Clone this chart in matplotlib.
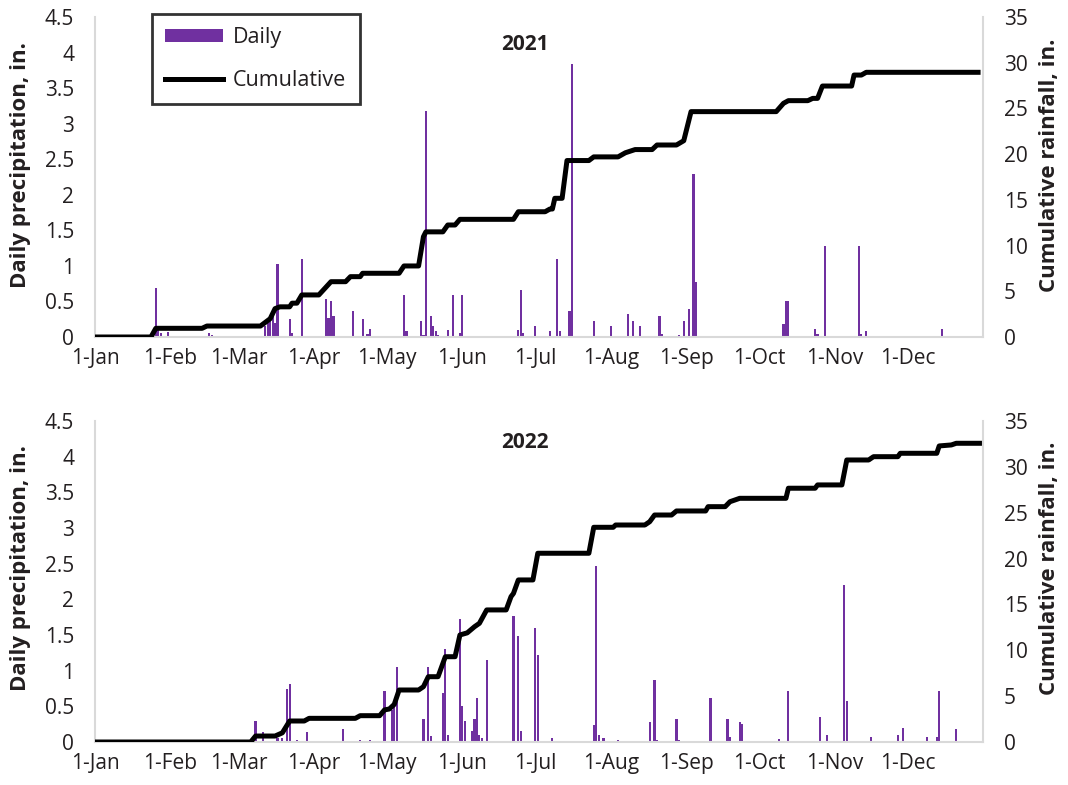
import matplotlib
matplotlib.use("Agg")
import matplotlib.pyplot as plt
from matplotlib.patches import Patch
from matplotlib.lines import Line2D

plt.rcParams['font.family'] = ['Open Sans', 'DejaVu Sans']

# day of year (0 = 1-Jan), daily precipitation in inches
days_2021 = [7, 24, 25, 26, 27, 30, 47, 48, 70, 71, 72, 73, 74, 75, 80, 81, 85, 86,
             95, 96, 97, 98, 106, 110, 112, 113, 118, 122, 127, 128, 134, 135, 136,
             138, 139, 140, 141, 145, 147, 150, 151, 162, 174, 175, 176, 181, 187,
             190, 191, 195, 196, 205, 212, 219, 221, 224, 232, 233, 240, 242, 244,
             246, 247, 258, 263, 272, 274, 283, 284, 285, 296, 297, 300, 314, 315,
             317, 348]
daily_2021 = [0.01, 0.10, 0.69, 0.12, 0.05, 0.07, 0.06, 0.03, 0.15, 0.20, 0.30, 0.40,
              0.20, 1.02, 0.26, 0.05, 1.10, 0.02, 0.54, 0.27, 0.51, 0.29, 0.37, 0.25,
              0.04, 0.11, 0.02, 0.02, 0.59, 0.08, 0.22, 0.03, 3.18, 0.30, 0.16, 0.08,
              0.03, 0.10, 0.59, 0.05, 0.59, 0.02, 0.10, 0.66, 0.05, 0.16, 0.08, 1.10,
              0.08, 0.37, 3.84, 0.22, 0.16, 0.33, 0.22, 0.16, 0.30, 0.04, 0.03, 0.22,
              0.40, 2.29, 0.77, 0.02, 0.02, 0.02, 0.02, 0.18, 0.51, 0.51, 0.11, 0.04,
              1.28, 1.28, 0.04, 0.08, 0.11]

cum_days_2021 = [0, 23, 25, 44, 46, 68, 72, 74, 76, 80, 81, 83, 85, 92, 97, 103, 105,
                 109, 110, 125, 127, 133, 135, 136, 143, 145, 148, 150, 172, 174, 185,
                 187, 188, 189, 192, 194, 203, 205, 215, 218, 222, 229, 231, 239, 242,
                 245, 280, 283, 285, 293, 295, 297, 299, 311, 312, 315, 317, 364]
cum_2021 = [0, 0, 0.95, 0.95, 1.2, 1.2, 2.0, 3.1, 3.3, 3.3, 3.7, 3.7, 4.6, 4.6, 6.05,
            6.05, 6.6, 6.6, 6.97, 6.97, 7.77, 7.77, 10.97, 11.5, 11.5, 12.25, 12.25,
            12.87, 12.87, 13.7, 13.7, 14.0, 14.0, 15.17, 15.17, 19.3, 19.3, 19.7, 19.7,
            20.15, 20.5, 20.5, 21.0, 21.0, 21.47, 24.65, 24.65, 25.56, 25.85, 25.85,
            26.1, 26.1, 27.45, 27.45, 28.65, 28.65, 28.95, 28.95]

days_2022 = [66, 69, 75, 77, 79, 80, 83, 87, 102, 109, 113, 119, 122, 123, 124, 135,
             137, 138, 143, 144, 145, 150, 151, 152, 155, 156, 157, 158, 159, 161, 172,
             174, 175, 181, 182, 188, 205, 206, 207, 209, 215, 228, 230, 231, 239, 240,
             253, 260, 261, 265, 266, 281, 285, 298, 301, 308, 309, 319, 330, 332, 342,
             346, 347, 354]
daily_2022 = [0.29, 0.14, 0.05, 0.05, 0.75, 0.82, 0.03, 0.14, 0.18, 0.03, 0.03, 0.72,
              0.45, 0.50, 1.05, 0.32, 1.05, 0.08, 0.68, 1.30, 0.10, 1.73, 0.50, 0.30,
              0.15, 0.32, 0.61, 0.10, 0.05, 1.15, 1.77, 1.48, 0.15, 1.60, 1.22, 0.06,
              0.24, 2.47, 0.10, 0.05, 0.03, 0.28, 0.87, 0.03, 0.32, 0.03, 0.61, 0.32,
              0.07, 0.28, 0.25, 0.04, 0.72, 0.35, 0.10, 2.20, 0.58, 0.07, 0.10, 0.20,
              0.07, 0.07, 0.72, 0.18]

cum_days_2022 = [0, 64, 66, 74, 77, 80, 86, 88, 107, 109, 117, 119, 121, 123, 125, 133,
                 135, 137, 141, 144, 148, 150, 153, 156, 158, 161, 169, 171, 172, 174,
                 180, 182, 203, 205, 213, 214, 226, 228, 230, 237, 239, 251, 252, 259,
                 261, 265, 284, 285, 296, 297, 307, 309, 318, 320, 330, 331, 346, 347,
                 352, 354, 365]
cum_2022 = [0, 0, 0.65, 0.65, 1.0, 2.29, 2.29, 2.58, 2.58, 2.87, 2.87, 3.5, 3.6, 4.1,
            5.67, 5.67, 6.03, 7.12, 7.12, 9.3, 9.3, 11.67, 11.9, 12.57, 12.94, 14.4,
            14.4, 15.85, 16.2, 17.67, 17.67, 20.58, 20.58, 23.41, 23.41, 23.66, 23.66,
            24.02, 24.75, 24.75, 25.19, 25.19, 25.66, 25.66, 26.2, 26.57, 26.57, 27.67,
            27.67, 28.03, 28.03, 30.75, 30.75, 31.11, 31.11, 31.48, 31.48, 32.28, 32.39,
            32.57, 32.57]

month_days = [0, 31, 59, 90, 120, 151, 181, 212, 243, 273, 304, 334]
month_labels = ['1-Jan', '1-Feb', '1-Mar', '1-Apr', '1-May', '1-Jun', '1-Jul',
                '1-Aug', '1-Sep', '1-Oct', '1-Nov', '1-Dec']
left_ticks = [0, 0.5, 1, 1.5, 2, 2.5, 3, 3.5, 4, 4.5]
left_labels = ['0', '0.5', '1', '1.5', '2', '2.5', '3', '3.5', '4', '4.5']
right_ticks = [0, 5, 10, 15, 20, 25, 30, 35]

purple = '#7030A0'
grid_grey = '#d9d9d9'
text_col = '#231f20'

W, H = 1068, 785
fig = plt.figure(figsize=(W / 100, H / 100), dpi=100)


def panel(rect, days, daily, cdays, cum, year, title_y):
    ax = fig.add_axes(rect)
    ax.bar(days, daily, width=0.9, color=purple, linewidth=0)
    ax.set_xlim(0, 365)
    ax.set_ylim(0, 4.5)
    ax.set_yticks(left_ticks)
    ax.set_yticklabels(left_labels)
    ax.set_xticks(month_days)
    ax.set_xticklabels(month_labels)
    ax.tick_params(axis='y', length=0, pad=15, labelsize=15, labelcolor=text_col)
    ax.tick_params(axis='x', length=0, pad=8, labelsize=15, labelcolor=text_col)
    for s in ['top', 'right']:
        ax.spines[s].set_visible(False)
    for s in ['left', 'bottom']:
        ax.spines[s].set_color(grid_grey)
        ax.spines[s].set_linewidth(1.5)

    tw = ax.twinx()
    tw.plot(cdays, cum, color='black', lw=3.6, solid_joinstyle='round',
            solid_capstyle='butt')
    tw.set_ylim(0, 35)
    tw.set_yticks(right_ticks)
    tw.tick_params(axis='y', length=0, pad=15, labelsize=15, labelcolor=text_col)
    for s in ['top', 'left', 'bottom']:
        tw.spines[s].set_visible(False)
    tw.spines['right'].set_color(grid_grey)
    tw.spines['right'].set_linewidth(1.5)

    ax.text(0.484, title_y, year, transform=ax.transAxes, ha='center',
            va='center', fontsize=15, fontweight='bold', color=text_col)
    return ax, tw


ax1, tw1 = panel([95 / W, 1 - 337 / H, 888 / W, 320 / H],
                 days_2021, daily_2021, cum_days_2021, cum_2021, '2021',
                 (337 - 45) / 320)
ax2, tw2 = panel([95 / W, 1 - 742 / H, 888 / W, 321 / H],
                 days_2022, daily_2022, cum_days_2022, cum_2022, '2022',
                 (742 - 443) / 321)

for yc in [165, 568]:
    fig.text(21 / W, 1 - yc / H, 'Daily precipitation, in.', rotation=90,
             ha='center', va='center', fontsize=16, fontweight='bold', color=text_col)
    fig.text(1050 / W, 1 - yc / H, 'Cumulative rainfall, in.', rotation=90,
             ha='center', va='center', fontsize=16, fontweight='bold', color=text_col)

handles = [Patch(facecolor=purple, edgecolor='none'),
           Line2D([0], [0], color='black', lw=3.6)]
leg = tw1.legend(handles, ['Daily', 'Cumulative'], loc='upper left',
                 bbox_to_anchor=(0.064, 1.009), borderaxespad=0, fontsize=15.5,
                 frameon=True, fancybox=False, edgecolor='black', handlelength=2.7,
                 handleheight=0.55, labelspacing=1.0, borderpad=0.62,
                 handletextpad=0.45)
leg.get_frame().set_linewidth(2)
for t in leg.get_texts():
    t.set_color(text_col)

fig.savefig('out.png', dpi=100)
